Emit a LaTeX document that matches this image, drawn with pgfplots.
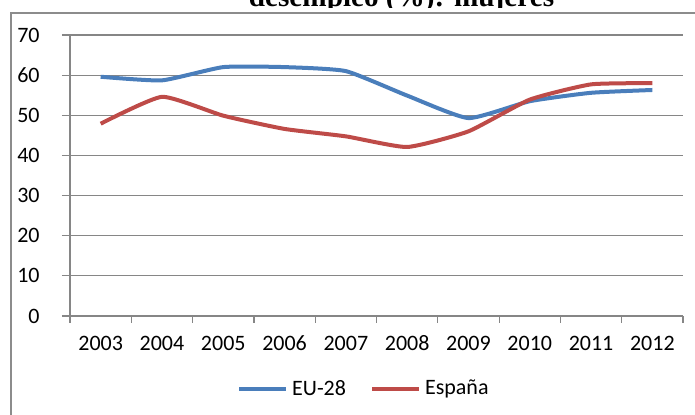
\documentclass[border=0pt]{standalone}
\usepackage{pgfplots}
\pgfplotsset{compat=1.18}
\usepackage{fontspec}
\setmainfont{Carlito}
\newfontfamily\titlefont{Liberation Serif}
\definecolor{eublue}{HTML}{4A7EBB}
\definecolor{esred}{HTML}{BE4B48}
\definecolor{gridgray}{HTML}{868686}
\definecolor{bordergray}{HTML}{8C8C8C}
\begin{document}
\begin{tikzpicture}
\useasboundingbox (0,0) rectangle (347.5pt,-207.5pt);
\draw[bordergray, line width=1pt] (5.5pt,-220pt) -- (5.5pt,-6.5pt) -- (360pt,-6.5pt);
\begin{scope}
\clip (0pt,10pt) rectangle (347.5pt,-3.7pt);
\node[anchor=base, inner sep=0pt, font=\titlefont\bfseries\fontsize{14.6pt}{16pt}\selectfont] at (200.75pt,-3.5pt) {desempleo (\%): mujeres};
\end{scope}
\begin{axis}[
  at={(35pt,-158pt)}, anchor=south west,
  scale only axis, width=306.5pt, height=140.5pt,
  xmin=-0.5, xmax=9.5, ymin=0, ymax=70,
  axis x line=bottom, axis y line=left,
  axis line style={gridgray, line width=0.6pt, -},
  xtick={0,1,2,3,4,5,6,7,8,9},
  xticklabels={2003,2004,2005,2006,2007,2008,2009,2010,2011,2012},
  minor xtick={-0.5,0.5,1.5,2.5,3.5,4.5,5.5,6.5,7.5,8.5,9.5},
  ytick={0,10,20,30,40,50,60,70},
  ymajorgrids, grid style={gridgray, line width=0.6pt},
  tick align=outside,
  major tick length=4pt, minor tick length=3.5pt,
  major x tick style={draw=none},
  minor x tick style={gridgray, line width=0.6pt},
  ytick style={gridgray, line width=0.6pt},
  tick label style={font=\fontsize{11pt}{13pt}\selectfont, text=black},
  /pgf/number format/assume math mode=true,
  yticklabel style={anchor=east, inner sep=0pt, xshift=-11pt},
  xticklabel style={anchor=base, inner sep=0pt, yshift=-13.5pt},
  legend style={at={(0.481,-0.26)}, anchor=center, draw=none, fill=none,
    font=\fontsize{11pt}{13pt}\selectfont, legend columns=2,
    /tikz/every even column/.append style={column sep=10pt}},
  legend image code/.code={\draw[#1] (0pt,0pt) -- (23.5pt,0pt);},
]
\addplot[eublue, line width=2pt, smooth, tension=0.3, line join=round] coordinates {
(0,59.6) (1,58.7) (2,62.0) (3,62.0) (4,61.0) (5,54.9) (6,49.3) (7,53.5) (8,55.6) (9,56.3)};
\addlegendentry{EU-28}
\addplot[esred, line width=2pt, smooth, tension=0.3, line join=round] coordinates {
(0,47.9) (1,54.6) (2,49.9) (3,46.6) (4,44.75) (5,42.1) (6,46.0) (7,53.9) (8,57.7) (9,58.0)};
\addlegendentry{España}
\end{axis}
\end{tikzpicture}
\end{document}
